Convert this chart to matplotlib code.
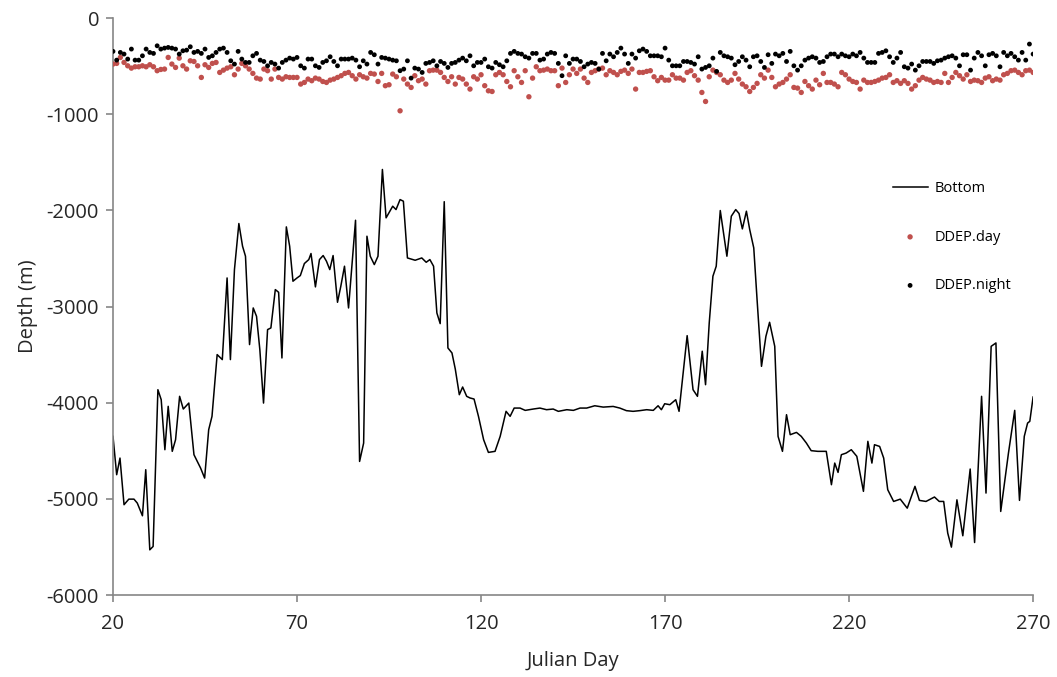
import numpy as np
import matplotlib
matplotlib.use("Agg")
import matplotlib.pyplot as plt

# bottom depth profile (day, depth m)
bottom_day = [
    20, 21.0, 21.9, 23.0, 24.3, 25.7, 26.6, 28.0, 28.9, 30.0, 30.9, 32.2, 33.1, 34.1, 35.0,
    36.1, 37.0, 38.1, 39.1, 40.6, 42.0, 43.8, 44.9, 46.0, 46.9, 48.3, 49.7, 51.0, 51.9, 53.0,
    54.2, 55.2, 56.0, 57.1, 58.1, 59.0, 59.9, 60.9, 62.0, 62.9, 64.1, 65.0, 65.9, 67.1, 68.0,
    68.9, 70.0, 70.9, 72.0, 73.2, 73.8, 75.0, 76.1, 77.1, 78.0, 78.9, 79.8, 81.0, 81.9, 82.9,
    84.0, 84.9, 85.9, 87.0, 88.1, 89.0, 89.9, 91.0, 92.0, 93.2, 94.2, 96.0, 96.9, 98.0, 98.9,
    100.0, 102.1, 103.9, 105.1, 106.1, 107.1, 108.0, 108.9, 110.0, 111.0, 112.1, 113.0, 114.1,
    115.0, 116.1, 117.0, 118.1, 119.3, 120.7, 122.0, 123.8, 125.2, 126.8, 127.9, 129.0, 130.6,
    132.0, 134.2, 136.0, 137.8, 139.6, 141.0, 143.3, 145.1, 146.9, 148.7, 150.9, 153.2, 155.9,
    157.7, 159.5, 161.3, 163.1, 165.0, 166.8, 168.1, 169.0, 169.9, 171.3, 172.9, 173.8, 176.0,
    177.6, 178.8, 180.1, 181.0, 182.0, 183.0, 183.9, 185.0, 186.8, 188.0, 189.2, 190.1, 191.0,
    192.1, 193.0, 194.1, 195.0, 196.2, 197.4, 198.4, 199.8, 200.7, 201.9, 203.0, 204.0, 205.7,
    207.0, 208.4, 209.7, 211.5, 213.8, 215.2, 216.1, 217.0, 217.9, 219.2, 220.6, 222.1, 223.9,
    225.1, 226.2, 226.9, 228.3, 229.4, 230.5, 232.1, 233.9, 235.8, 237.9, 239.1, 240.9, 243.2,
    244.5, 245.7, 246.8, 247.8, 249.3, 250.9, 252.9, 254.1, 256.0, 257.2, 258.6, 259.9, 261.2,
    263.3, 265.0, 266.3, 267.6, 268.5, 269.1, 270.0,
]
bottom_depth = [
    -4350, -4749, -4576, -5061, -5003, -5003, -5044, -5176, -4697, -5530, -5495, -3865, -3969, -4489, -4038,
    -4506, -4385, -3934, -4066, -4004, -4541, -4680, -4784, -4281, -4142, -3500, -3552, -2703, -3552, -2616,
    -2137, -2373, -2477, -3396, -3015, -3102, -3449, -4004, -3240, -3223, -2824, -2852, -3535, -2172, -2373,
    -2737, -2703, -2678, -2553, -2512, -2449, -2796, -2512, -2470, -2529, -2616, -2470, -2956, -2789, -2581,
    -3015, -2581, -2103, -4611, -4420, -2269, -2477, -2564, -2477, -1575, -2078, -1957, -1992, -1888, -1905,
    -2495, -2519, -2495, -2540, -2512, -2581, -3067, -3178, -1910, -3431, -3483, -3650, -3917,
    -3837, -3934, -3951, -3962, -4142, -4385, -4517, -4506, -4350, -4090, -4142, -4056, -4056,
    -4080, -4066, -4056, -4073, -4066, -4090, -4073, -4080, -4056, -4056, -4032, -4046, -4039,
    -4056, -4083, -4090, -4083, -4073, -4080, -4032, -4073, -4011, -4021, -3969, -4090, -3303,
    -3865, -3934, -3465, -3813, -3171, -2685, -2581, -2002, -2477, -2061, -1992, -2033, -2193,
    -2009, -2200, -2391, -2929, -3622, -3310, -3164, -3414, -4350, -4506, -4125, -4333, -4309,
    -4350, -4420, -4499, -4506, -4506, -4853, -4628, -4725, -4541, -4524, -4489, -4558, -4922,
    -4402, -4628, -4437, -4455, -4576, -4905, -5027, -5003, -5097, -4870, -5016, -5027, -4981,
    -5027, -5027, -5356, -5502, -5010, -5384, -4690, -5454, -3934, -4940, -3414, -3379, -5131,
    -4524, -4080, -5016, -4350, -4212, -4194, -3941,
]

# daily dive depths, days 20..270
ddep_days = np.arange(20, 271)
ddep_day = [
    -479, -472, -410, -462, -497, -521, -507, -507, -497, -507, -486, -507, -548, -535, -531, -410,
    -479, -514, -417, -497, -531, -445, -452, -497, -618, -486, -514, -472, -462, -566, -542, -521,
    -507, -590, -531, -472, -497, -531, -576, -625, -635, -531, -548, -635, -531, -618, -635, -611,
    -618,
    -618, -618, -687, -670, -635, -652, -625, -635, -660, -670, -646, -635, -618, -600, -576, -566,
    -600, -635, -590, -611, -625, -576, -583, -660, -576, -704, -694, -583, -611, -965, -635, -687,
    -722, -600, -652, -635, -687, -548, -542, -542, -566, -618, -660, -611, -687, -618, -635, -687,
    -739, -611, -635,
    -590, -704, -757, -764, -590, -566, -590, -660, -715, -548, -611, -670, -548, -819, -625, -507,
    -548, -542, -531, -548, -548, -704, -521, -670, -590, -531, -576, -531, -625, -670, -566, -548,
    -531, -521, -590, -548, -566, -590, -555, -542, -576, -531, -739, -566, -566, -555, -548, -611,
    -652, -618,
    -646, -646, -590, -625, -625, -646, -566, -548, -600, -646, -774, -868, -611, -542, -566, -590,
    -646, -670, -646, -576, -635, -687, -715, -764, -722, -680, -590, -625, -542, -618, -715, -687,
    -670, -635, -590, -722, -729, -774, -660, -704, -739, -646, -694, -576, -670, -670, -687, -715,
    -566, -590,
    -635, -660, -670, -739, -646, -670, -670, -660, -646, -625, -618, -590, -670, -652, -680, -652,
    -680, -739, -704, -646, -618, -635, -646, -670, -660, -670, -576, -670, -618, -566, -600, -635,
    -590, -660, -646, -652, -670, -625, -611, -652, -635, -646, -590, -576, -548, -542, -566, -590,
    -548, -542, -566,
]
ddep_night = [
    -347, -438, -358, -375, -427, -323, -438, -438, -393, -323, -358, -368, -289, -323, -313, -306,
    -313, -323, -375, -341, -334, -299, -358, -347, -368, -323, -410, -393, -358, -323, -313, -358,
    -445, -479, -347, -427, -462, -462, -393, -368, -438, -452, -497, -462, -479, -521, -462, -438,
    -417,
    -427, -410, -497, -521, -427, -427, -497, -514, -462, -445, -403, -452, -497, -427, -427, -427,
    -417, -438, -507, -445, -479, -358, -382, -479, -410, -417, -427, -438, -445, -548, -531, -445,
    -625, -521, -531, -566, -472, -462, -445, -497, -452, -472, -514, -472, -462, -438, -417, -445,
    -393, -497, -462,
    -462, -427, -507, -521, -462, -486, -507, -445, -368, -347, -368, -375, -403, -417, -368, -368,
    -438, -427, -375, -358, -368, -472, -600, -393, -472, -427, -427, -452, -507, -479, -462, -472,
    -531, -368, -445, -375, -403, -358, -313, -375, -472, -375, -417, -341, -323, -347, -393, -393,
    -393, -403,
    -313, -438, -497, -497, -497, -452, -452, -462, -479, -403, -531, -514, -497, -417, -555, -358,
    -393, -403, -417, -486, -452, -403, -438, -507, -403, -393, -452, -514, -382, -472, -375, -393,
    -368, -452, -347, -497, -542, -497, -438, -417, -403, -417, -462, -452, -403, -375, -375, -403,
    -375, -393,
    -403, -375, -393, -358, -417, -462, -462, -462, -368, -358, -341, -403, -462, -417, -358, -507,
    -521, -479, -542, -497, -452, -452, -452, -472, -445, -438, -417, -403, -393, -417, -497, -382,
    -382, -542, -417, -358, -393, -497, -382, -368, -393, -507, -358, -393, -368, -403, -438, -358,
    -438, -271, -375,
]

x_ticks = [20, 70, 120, 170, 220, 270]
y_ticks = [0, -1000, -2000, -3000, -4000, -5000, -6000]

plt.rcParams['font.family'] = ['Open Sans', 'DejaVu Sans']
plt.rcParams['axes.unicode_minus'] = False

axis_color = '#868686'
text_color = '#262626'
red = '#C0504D'

fig = plt.figure(figsize=(10.57, 6.77), dpi=100)
ax = fig.add_axes([0.1069, 0.1211, 0.8705, 0.8523])

ax.plot(bottom_day, bottom_depth, color='black', linewidth=1.1, label='Bottom', zorder=2)
ax.scatter(ddep_days, ddep_day, s=15, color=red, edgecolors='none', label='DDEP.day', zorder=3)
ax.scatter(ddep_days, ddep_night, s=12, color='black', edgecolors='none', label='DDEP.night', zorder=4)

ax.set_xlim(20, 270)
ax.set_ylim(-6000, 0)
ax.set_xticks(x_ticks)
ax.set_yticks(y_ticks)
ax.set_yticklabels([str(v) for v in y_ticks])

for side in ['top', 'right']:
    ax.spines[side].set_visible(False)
for side in ['left', 'bottom']:
    ax.spines[side].set_color(axis_color)
    ax.spines[side].set_linewidth(1.2)
ax.tick_params(axis='both', colors=axis_color, labelcolor=text_color,
               labelsize=14.5, length=5, width=1.2, direction='out')
ax.tick_params(axis='x', pad=9)
ax.tick_params(axis='y', pad=5)

ax.set_xlabel('Julian Day', fontsize=14.5, color=text_color, labelpad=12)
ax.set_ylabel('Depth (m)', fontsize=14.5, color=text_color, labelpad=6)

leg = ax.legend(loc='upper left', bbox_to_anchor=(0.833, 0.740), frameon=False,
                fontsize=10.5, labelspacing=2.3, handlelength=2.4, handletextpad=0.5,
                markerscale=1.0)
for t in leg.get_texts():
    t.set_color('black')

fig.savefig('out.png', dpi=100)
